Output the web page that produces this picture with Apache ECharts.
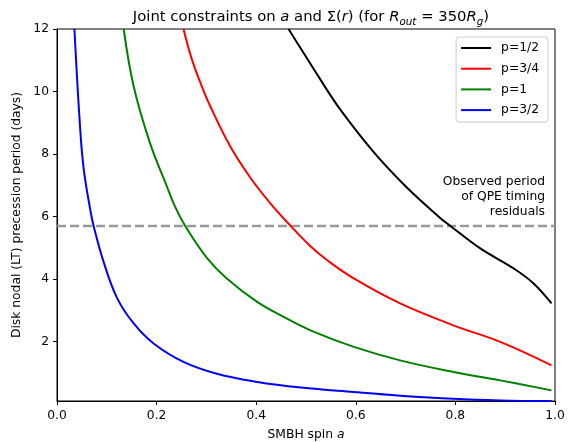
<!DOCTYPE html>
<html>
<head>
<meta charset="utf-8">
<script src="https://cdn.jsdelivr.net/npm/echarts@6/dist/echarts.min.js"></script>
<style>
html,body{margin:0;padding:0;background:#fff;}
#chart{width:569px;height:442px;}
</style>
</head>
<body>
<div id="chart"></div>
<script>
// ---- data ----
const seriesNames = ['p=1/2', 'p=3/4', 'p=1', 'p=3/2'];
const seriesColors = ['#000000', '#ff0000', '#008000', '#0000ff'];

const spinP12 = [0.465, 0.4886, 0.529, 0.569, 0.636, 0.703, 0.770, 0.790, 0.850, 0.917, 0.957, 0.993];
const periodP12 = [12.0, 11.40, 10.38, 9.42, 8.06, 6.92, 5.95, 5.70, 4.98, 4.34, 3.86, 3.22];

const spinP34 = [0.254, 0.271, 0.290, 0.308, 0.348, 0.388, 0.428, 0.468, 0.509, 0.542, 0.596, 0.689, 0.796, 0.890, 0.993];
const periodP34 = [12.0, 11.02, 10.2, 9.52, 8.24, 7.25, 6.43, 5.72, 5.05, 4.61, 4.02, 3.22, 2.52, 1.99, 1.24];

const spinP1 = [0.134, 0.154, 0.187, 0.221, 0.2375, 0.2575, 0.301, 0.341, 0.402, 0.455, 0.509, 0.596, 0.689, 0.796, 0.890, 0.993];
const periodP1 = [12.0, 10.16, 8.34, 6.95, 6.3, 5.70, 4.68, 4.02, 3.27, 2.79, 2.36, 1.83, 1.40, 1.03, 0.76, 0.44];

const spinP32 = [0.035, 0.0454, 0.0534, 0.0669, 0.0735, 0.0936, 0.1205, 0.154, 0.194, 0.254, 0.321, 0.402, 0.490, 0.596, 0.689, 0.796, 0.890, 0.993];
const periodP32 = [12.0, 9.09, 7.55, 6.21, 5.70, 4.55, 3.40, 2.58, 1.94, 1.35, 0.97, 0.71, 0.53, 0.385, 0.27, 0.17, 0.12, 0.10];

const observedPeriod = 5.7;
const xTicks = [0, 0.2, 0.4, 0.6, 0.8, 1.0];
const yTicks = [2, 4, 6, 8, 10, 12];
const yMin = 0.1, yMax = 12;

const spins = [spinP12, spinP34, spinP1, spinP32];
const periods = [periodP12, periodP34, periodP1, periodP32];

const FONT = 'DejaVu Sans';
const chart = echarts.init(document.getElementById('chart'), null, {renderer: 'canvas'});

const curveSeries = seriesNames.map((name, i) => ({
  name: name,
  type: 'line',
  data: spins[i].map((a, k) => [a, periods[i][k]]),
  showSymbol: false,
  symbol: 'none',
  smooth: 0.4,
  clip: true,
  lineStyle: {color: seriesColors[i], width: 2},
  itemStyle: {color: seriesColors[i]},
  z: 3
}));

const option = {
  animation: false,
  backgroundColor: '#ffffff',
  title: {
    text: '{n|Joint constraints on }{i|a}{n| and Σ(}{i|r}{n|) (for }{i|R}{s|out}{n| = 350}{i|R}{s|g}{n|)}',
    left: 306,
    textAlign: 'center',
    top: 2,
    textStyle: {
      fontWeight: 'normal',
      rich: {
        n: {fontFamily: FONT, fontSize: 14.8, fontWeight: 'normal', color: '#000', lineHeight: 20},
        i: {fontFamily: FONT, fontSize: 14.8, fontWeight: 'normal', fontStyle: 'italic', color: '#000', lineHeight: 20},
        s: {fontFamily: FONT, fontSize: 10.4, fontWeight: 'normal', fontStyle: 'italic', color: '#000', lineHeight: 11, verticalAlign: 'bottom'}
      }
    }
  },
  grid: {left: 57, right: 14, top: 29, bottom: 41, outerBoundsMode: 'none', containLabel: false,
    show: true, borderColor: '#000', borderWidth: 1, backgroundColor: 'transparent'},
  legend: {
    data: seriesNames,
    orient: 'vertical',
    right: 21,
    top: 37,
    icon: 'rect',
    itemWidth: 30,
    itemHeight: 2,
    itemGap: 6.7,
    padding: [4, 9, 5, 5],
    backgroundColor: 'rgba(255,255,255,0.8)',
    borderColor: '#cccccc',
    borderWidth: 1,
    borderRadius: 3,
    textStyle: {fontFamily: FONT, fontSize: 12.3, color: '#000', lineHeight: 14, padding: [0, 0, 0, 5]}
  },
  xAxis: {
    type: 'value',
    min: 0, max: 1, interval: 0.2,
    name: 'SMBH spin {i|a}',
    nameLocation: 'middle',
    nameGap: 28,
    nameTextStyle: {
      fontFamily: FONT, fontSize: 12.3, color: '#000',
      rich: {i: {fontFamily: FONT, fontSize: 12.3, fontStyle: 'italic', color: '#000'}}
    },
    axisLine: {show: true, lineStyle: {color: '#000', width: 1}},
    axisTick: {show: true, length: 4, lineStyle: {color: '#000'}, customValues: xTicks},
    axisLabel: {fontFamily: FONT, fontSize: 12.3, color: '#000', margin: 9,
      customValues: xTicks, formatter: v => v.toFixed(1)},
    splitLine: {show: false}
  },
  yAxis: {
    type: 'value',
    min: yMin, max: yMax,
    name: 'Disk nodal (LT) precession period (days)',
    nameLocation: 'middle',
    nameGap: 34,
    nameRotate: 90,
    nameTextStyle: {fontFamily: FONT, fontSize: 12.3, color: '#000'},
    axisLine: {show: true, lineStyle: {color: '#000', width: 1}},
    axisTick: {show: true, length: 4, lineStyle: {color: '#000'}, customValues: yTicks},
    axisLabel: {fontFamily: FONT, fontSize: 12.3, color: '#000', margin: 8,
      customValues: yTicks, formatter: v => String(v)},
    splitLine: {show: false}
  },
  graphic: [{
    type: 'text',
    x: 545,
    y: 174,
    style: {
      text: 'Observed period\nof QPE timing\nresiduals',
      align: 'right',
      verticalAlign: 'top',
      fontFamily: FONT,
      fontSize: 12.3,
      lineHeight: 15,
      fill: '#000'
    },
    z: 10
  }],
  series: curveSeries.concat([{
    name: 'observed',
    type: 'line',
    data: [[0, observedPeriod], [1, observedPeriod]],
    showSymbol: false,
    symbol: 'none',
    lineStyle: {color: '#999999', width: 2.5, type: [9, 4]},
    z: 2,
    silent: true
  }])
};
chart.setOption(option);
</script>
</body>
</html>
